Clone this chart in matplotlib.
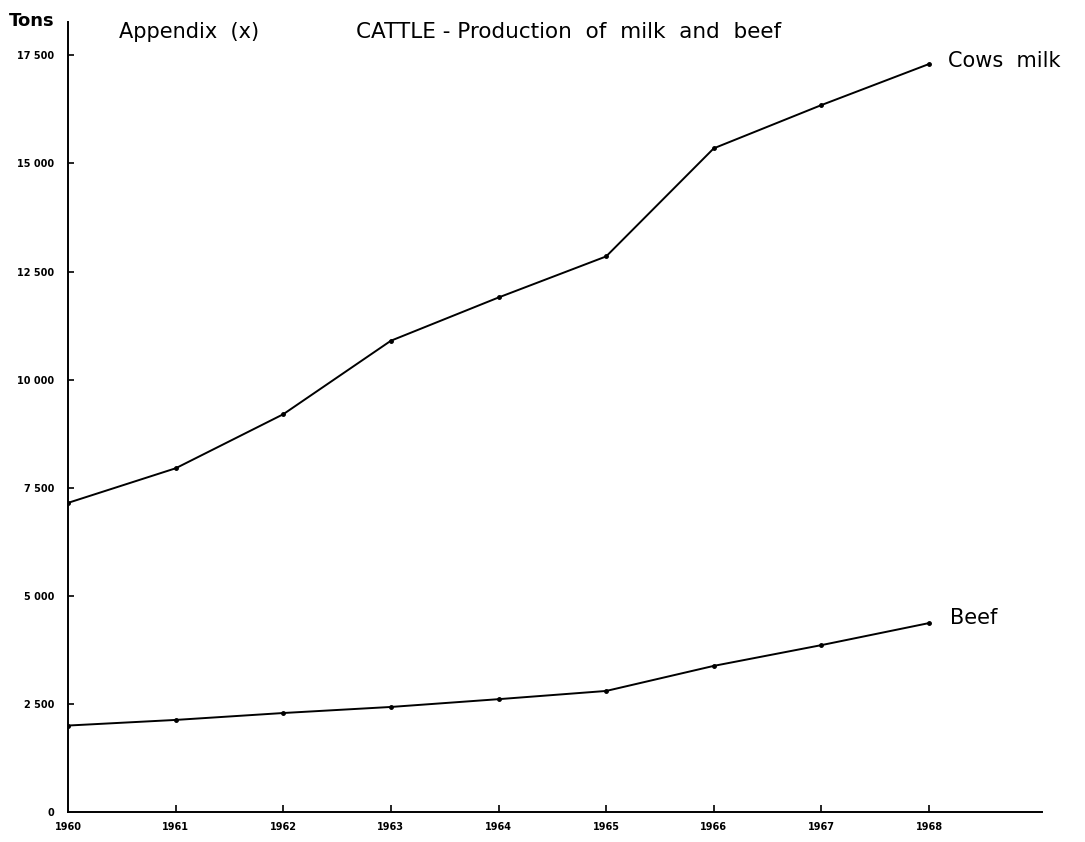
import matplotlib
matplotlib.use("Agg")
import matplotlib.pyplot as plt

# Cattle production, tons per year
years = [1960, 1961, 1962, 1963, 1964, 1965, 1966, 1967, 1968]
cows_milk = [7150, 7950, 9200, 10900, 11900, 12850, 15350, 16350, 17300]
beef = [2000, 2130, 2290, 2430, 2610, 2800, 3380, 3860, 4370]
y_ticks = [0, 2500, 5000, 7500, 10000, 12500, 15000, 17500]
y_tick_labels = ["0", "2 500", "5 000", "7 500", "10 000", "12 500", "15 000", "17 500"]

plt.rcParams["font.family"] = "DejaVu Sans"

fig = plt.figure(figsize=(10.85, 8.42), dpi=100)
ax = fig.add_axes([0.0627, 0.0356, 0.8977, 0.9382])

ax.plot(years, cows_milk, color="black", lw=1.4, marker="o", ms=2.5)
ax.plot(years, beef, color="black", lw=1.4, marker="o", ms=2.5)

ax.set_xlim(1960, 1969.05)
ax.set_ylim(0, 18270)

ax.spines["top"].set_visible(False)
ax.spines["right"].set_visible(False)
for s in ("left", "bottom"):
    ax.spines[s].set_linewidth(1.4)

ax.set_xticks(years)
ax.set_xticklabels([str(y) for y in years], fontsize=7, fontweight="bold")
ax.set_yticks(y_ticks)
ax.set_yticklabels(y_tick_labels, fontsize=7, fontweight="bold")
ax.tick_params(axis="x", direction="in", length=5, width=1.2, pad=7)
ax.tick_params(axis="y", direction="in", length=4, width=1.2, pad=10)
# no tick mark at the origin on either axis
ax.xaxis.get_major_ticks()[0].tick1line.set_visible(False)
ax.yaxis.get_major_ticks()[0].tick1line.set_visible(False)

fig.text(0.008, 0.986, "Tons", fontsize=13, fontweight="bold", ha="left", va="top")
fig.text(0.110, 0.974, "Appendix  (x)", fontsize=15, ha="left", va="top")
fig.text(0.328, 0.974, "CATTLE - Production  of  milk  and  beef", fontsize=15.5,
         ha="left", va="top")

ax.annotate("Cows  milk", (years[-1], cows_milk[-1]), xytext=(14, 2),
            textcoords="offset points", fontsize=15, va="center")
ax.annotate("Beef", (years[-1], beef[-1]), xytext=(15, 4),
            textcoords="offset points", fontsize=15, va="center")

fig.savefig("out.png", dpi=100)
